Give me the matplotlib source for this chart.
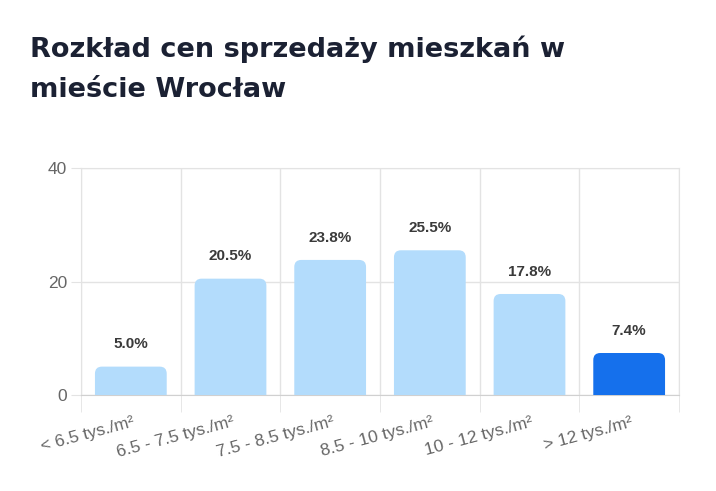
import numpy as np
import matplotlib
matplotlib.use("Agg")
import matplotlib.pyplot as plt
from matplotlib.patches import FancyBboxPatch

categories = ["< 6.5 tys./m²", "6.5 - 7.5 tys./m²", "7.5 - 8.5 tys./m²",
              "8.5 - 10 tys./m²", "10 - 12 tys./m²", "> 12 tys./m²"]
shares = [5.0, 20.5, 23.8, 25.5, 17.8, 7.4]
highlight = [False, False, False, False, False, True]

light = "#b3dcfc"
dark = "#1570ec"
grid_col = "#e3e3e3"

fig = plt.figure(figsize=(7.16, 4.91), dpi=100)
ax = fig.add_axes([81/716, 1-395/491, (679-81)/716, (395-168)/491])

x = np.arange(len(categories))
w = 0.72
ax.set_xlim(-0.5, len(categories) - 0.5)
ax.set_ylim(0, 40)

# px per data unit, used to keep the corner radius round
px_x = (679 - 81) / len(categories)
px_y = (395 - 168) / 40
aspect = px_x / px_y

for xi, v, hl in zip(x, shares, highlight):
    bar = FancyBboxPatch((xi - w/2, -3), w, v + 3,
                         boxstyle="round,pad=0,rounding_size=0.07",
                         mutation_aspect=aspect,
                         facecolor=dark if hl else light, edgecolor="none",
                         zorder=3, clip_on=True)
    ax.add_patch(bar)
    ax.annotate(f"{v:.1f}%", (xi, v), xytext=(0, 11), textcoords="offset points",
                ha="center", va="bottom", fontsize=11, fontweight="bold",
                color="#3a3a3a", family="Liberation Sans")

ax.set_yticks([0, 20, 40])
ax.tick_params(axis="y", length=7, color=grid_col, labelsize=12.5, labelcolor="#666666", pad=3)
ax.set_xticks(x)
ax.set_xticklabels([])
ax.tick_params(axis="x", which="major", length=0)
ax.set_xticks(np.arange(-0.5, len(categories)), minor=True)
ax.tick_params(axis="x", which="minor", length=12, color=grid_col)
ax.grid(axis="y", color=grid_col, linewidth=1, zorder=0)
ax.grid(axis="x", which="minor", color=grid_col, linewidth=1, zorder=0)
for s in ax.spines.values():
    s.set_color(grid_col)
ax.spines["bottom"].set_color("#d0d0d0")
for lab in ax.get_yticklabels():
    lab.set_family("Liberation Sans")

for xi, lab in zip(x, categories):
    ax.annotate(lab, (xi + 0.015, 0), xytext=(0, -14), textcoords="offset points",
                ha="right", va="top", rotation=15, rotation_mode="anchor",
                fontsize=12.5, color="#666666", family="Liberation Sans",
                annotation_clip=False)

fig.text(30/716, 1-57/491, "Rozkład cen sprzedaży mieszkań w", fontsize=19.5,
         fontweight="bold", color="#1b2133", family="DejaVu Sans", va="baseline")
fig.text(30/716, 1-97/491, "mieście Wrocław", fontsize=19.5,
         fontweight="bold", color="#1b2133", family="DejaVu Sans", va="baseline")

fig.savefig("out.png", dpi=100)
